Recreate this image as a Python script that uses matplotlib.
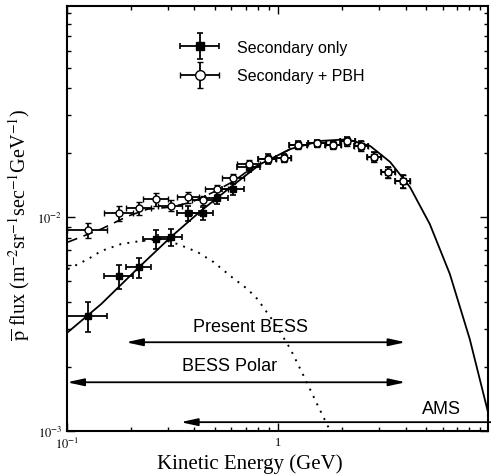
import matplotlib
matplotlib.use('Agg')
import matplotlib.pyplot as plt
import numpy as np
from matplotlib.ticker import FixedLocator, FixedFormatter, LogLocator, NullFormatter
from matplotlib.legend_handler import HandlerErrorbar
from matplotlib.container import ErrorbarContainer

plt.rcParams['font.family'] = ['Liberation Serif', 'DejaVu Serif']
plt.rcParams['mathtext.fontset'] = 'stix'

# measured points (GeV, m^-2 sr^-1 s^-1 GeV^-1)
energy = [0.126, 0.176, 0.219, 0.263, 0.309, 0.374, 0.438, 0.512, 0.61, 0.725,
          0.89, 1.06, 1.24, 1.53, 1.82, 2.12, 2.46, 2.84, 3.3, 3.88]
e_lo = [0.100, 0.150, 0.190, 0.230, 0.270, 0.330, 0.390, 0.450, 0.540, 0.640,
        0.800, 0.970, 1.120, 1.380, 1.670, 1.960, 2.270, 2.630, 3.050, 3.550]
e_hi = [0.155, 0.205, 0.250, 0.300, 0.350, 0.420, 0.490, 0.580, 0.690, 0.820,
        0.980, 1.150, 1.370, 1.690, 1.980, 2.300, 2.660, 3.070, 3.570, 4.200]
flux_sec = [0.00345, 0.0053, 0.00583, 0.00789, 0.00807, 0.0104, 0.0104, 0.0123, 0.0135, 0.0171,
            0.0187, 0.0189, 0.0217, 0.0221, 0.0217, 0.0226, 0.0215, 0.0191, 0.0162, 0.0147]
flux_pbh = [0.00869, 0.0104, 0.0110, 0.0121, 0.0113, 0.0124, 0.0120, 0.0135, 0.0152, 0.0177,
            0.0187, 0.0189, 0.0217, 0.0221, 0.0217, 0.0226, 0.0215, 0.0191, 0.0162, 0.0147]
relerr_sec = [0.16, 0.13, 0.11, 0.10, 0.09, 0.08, 0.07, 0.06, 0.06, 0.05,
              0.05, 0.04, 0.04, 0.04, 0.04, 0.05, 0.05, 0.05, 0.06, 0.07]
relerr_pbh = [0.08, 0.08, 0.07, 0.07, 0.06, 0.06, 0.05, 0.05, 0.05, 0.04,
              0.04, 0.04, 0.04, 0.04, 0.04, 0.05, 0.05, 0.05, 0.06, 0.07]

# model curves
curve_e = [0.101, 0.145, 0.219, 0.31, 0.429, 0.594, 0.823, 1.14, 1.58, 2.12,
           2.72, 3.38, 4.2, 5.21, 6.48, 8.05, 10.0]
curve_sec = [0.0029, 0.00392, 0.00583, 0.00807, 0.01067, 0.0138, 0.0177, 0.0208, 0.0227, 0.0231,
             0.0215, 0.0181, 0.0138, 0.00927, 0.00542, 0.00269, 0.00114]
dash_e = [0.101, 0.145, 0.194, 0.241, 0.30, 0.385, 0.494, 0.614, 0.738, 0.887, 1.14]
dash_tot = [0.00764, 0.00879, 0.0101, 0.0109, 0.0111, 0.0117, 0.0131, 0.0147, 0.0168, 0.0183, 0.0208]
dot_e = [0.101, 0.126, 0.145, 0.180, 0.223, 0.278, 0.334, 0.415, 0.494, 0.594,
         0.714, 0.796, 0.968, 1.14, 1.34, 1.54, 1.76]
dot_pbh = [0.00571, 0.00637, 0.00694, 0.00748, 0.00773, 0.00789, 0.00748, 0.00686, 0.00616, 0.0053,
           0.00461, 0.00414, 0.00316, 0.00242, 0.00175, 0.00131, 0.001]

# energy coverage of the experiments: start, end, arrow y, label y, label x
ranges = {'Present BESS': (0.19, 4.0, 0.0026, 0.00308, 0.74),
          'BESS Polar': (0.1, 4.0, 0.00169, 0.00203, 0.59),
          'AMS': (12.0, 0.345, 0.0011, 0.00128, 5.9)}

fig = plt.figure(figsize=(4.91, 4.77), dpi=100)
ax = fig.add_axes([0.1365, 0.0943, 0.857, 0.891])

ax.plot(curve_e, curve_sec, color='black', lw=1.3, zorder=2)
ax.plot(dash_e, dash_tot, color='black', lw=1.2, ls=(0, (6, 4)), zorder=2)
ax.plot(dot_e, dot_pbh, color='black', lw=1.4, ls=(0, (1, 3.2)), zorder=2)

e = np.array(energy)
xerr = [e - np.array(e_lo), np.array(e_hi) - e]
fs = np.array(flux_sec)
fp = np.array(flux_pbh)
ax.errorbar(e, fs, xerr=xerr, yerr=fs * np.array(relerr_sec), fmt='s', ms=4,
            mfc='black', mec='black', ecolor='black', elinewidth=1.3, capsize=2.5,
            capthick=1.2, zorder=3, label='Secondary only')
ax.errorbar(e, fp, xerr=xerr, yerr=fp * np.array(relerr_pbh), fmt='o', ms=5,
            mfc='white', mec='black', mew=1.0, ecolor='black', elinewidth=1.3, capsize=2.5,
            capthick=1.2, zorder=4, label='Secondary + PBH')

for name, (x0, x1, ya, yt, xt) in ranges.items():
    style = '<|-|>' if name != 'AMS' else '-|>'
    ax.annotate('', xy=(x1, ya), xytext=(x0, ya), annotation_clip=False,
                arrowprops=dict(arrowstyle=style + ',head_length=1.0,head_width=0.22',
                                color='black', lw=1.3, shrinkA=0, shrinkB=0))
    ax.text(xt, yt, name, ha='center', va='center', fontsize=13,
            family=['Liberation Sans', 'DejaVu Sans'])

ax.set_xscale('log')
ax.set_yscale('log')
ax.set_xlim(0.1, 9.8)
ax.set_ylim(1e-3, 0.097)

ax.xaxis.set_major_locator(FixedLocator([0.1, 1]))
ax.xaxis.set_major_formatter(FixedFormatter([r'$10^{-1}$', '1']))
ax.yaxis.set_major_locator(FixedLocator([1e-3, 1e-2]))
ax.yaxis.set_major_formatter(FixedFormatter([r'$10^{-3}$', r'$10^{-2}$']))
ax.xaxis.set_minor_locator(LogLocator(base=10, subs=np.arange(2, 10), numticks=20))
ax.yaxis.set_minor_locator(LogLocator(base=10, subs=np.arange(2, 10), numticks=20))
ax.xaxis.set_minor_formatter(NullFormatter())
ax.yaxis.set_minor_formatter(NullFormatter())
ax.tick_params(which='both', direction='in', top=True, right=True, labelsize=9, width=1)
ax.tick_params(which='major', length=6)
ax.tick_params(which='minor', length=3)
for s in ax.spines.values():
    s.set_linewidth(1.5)

ax.set_xlabel('Kinetic Energy (GeV)', fontsize=15)
ax.xaxis.set_label_coords(0.435, -0.052)
ax.set_ylabel(r'$\overline{\mathrm{p}}$ flux (m$^{-2}$sr$^{-1}$sec$^{-1}$GeV$^{-1}$)',
              fontsize=14.5)
ax.yaxis.set_label_coords(-0.083, 0.487)

leg = ax.legend(loc='upper left', bbox_to_anchor=(0.224, 0.955), frameon=False,
                prop={'family': ['Liberation Sans', 'DejaVu Sans'], 'size': 11.5},
                handlelength=3.0, handletextpad=0.85, labelspacing=0.87, markerscale=1.4,
                handler_map={ErrorbarContainer: HandlerErrorbar(xerr_size=1.2, yerr_size=0.8)})

fig.savefig('out.png', dpi=100)
